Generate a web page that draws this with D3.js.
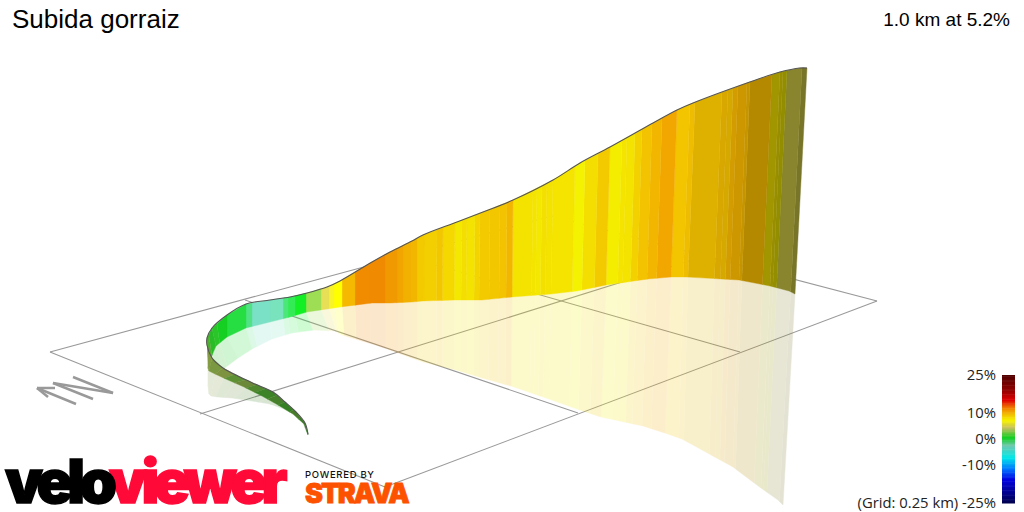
<!DOCTYPE html>
<html><head><meta charset="utf-8">
<script src="https://cdn.jsdelivr.net/npm/d3@7"></script>
<style>html,body{margin:0;padding:0;background:#fff;overflow:hidden}svg{display:block}</style>
</head><body><svg id="c" width="1024" height="512"></svg>
<script>
// --- profile outline, per station along the climb
const stationPos = [40,52,68,85,100,120,140,160,178,192,200,212,227,246,270,290,307,327,340,372,390,412,423,457,483,513,553,580,610,653,677,693,747,780,800,807];
const elevTopX  = [308,305,296,285,273,255,240,223,212,207,207,212,227,246,270,290,307,327,340,372,390,412,423,457,483,513,553,580,610,653,677,693,747,780,800,807];
const elevTopY  = [434,423,412,402,392,384,377,368,358,345,338,328,315,304,300,297,293,287,281,262,252,241,235,222,212,200,180,163,147,123,110,103,83,72,68,68];
const groundX   = [308,304,293,278,262,244,228,215,209,208,210,216,227,246,270,290,307,327,340,372,390,412,423,456,482,512,551,577,606,648,671,686,739,770,789,795];
const groundY   = [435,424,414,405,396,387,380,374,371,368,360,346,337,328,322,317,312,309,307,303,303,302,301,300,300,297,294,291,285,279,277,277,280,286,291,294];
const mirrorX   = [308,303,289,270,252,232,218,211,209,208,213,222,238,252,272,292,314,335,342,372,390,412,423,456,482,511,549,574,601,643,665,682,733,761,778,783];
const mirrorY   = [435,423,411,404,401,398,397,396,394,385,378,370,358,349,339,333,330,331,335,344,350,358,362,370,378,386,399,408,417,426,433,439,467,488,500,505];
// --- gradient strips: boundaries along the climb and the gradient (%) of each
const stripEdges = [40,48,60,72,85,95,108,118,132,146,160,178,190,196,204,212,217,227,246,252,270,283,288,295,306,321,329,334,342,355,370,385,397,403,411,417,424,437,443,455,462,467,475,480,490,500,507,513,533,537,542,547,553,575,585,598,610,622,627,635,642,652,662,677,690,695,722,728,733,738,747,750,772,780,783,787,802,807];
const stripGrades = [1.5,2,2.5,1.8,2.4,2,2.6,3.3,2.8,3.6,3.4,3.6,3,2,1,1,0.5,-0.2,-1.5,-2.8,-2.5,-1.2,-0.5,0.4,3,4.8,6,7,9.7,11.5,11.6,11,10.5,10,9.8,9,8.8,9.1,8.4,7.7,8.2,8,8.6,9,9.1,9.3,9.8,8,7.8,7.6,8.1,8,7.9,7,8.2,9,7.3,7.9,8,8.7,9.3,9.8,10.4,9.2,9.4,9.3,9.6,9.4,9.9,9.9,9.7,9.7,7.9,7.9,7.4,5,5];
// --- lighting of the 3D wall along the climb
const lightPos = [40,100,150,190,205,240,300,330,350,690,700,722,740,760,776,785,795,807];
const lightVal = [.6,.65,.75,.8,.9,1.1,1.15,1.1,1,1,.92,.9,.86,.75,.66,.6,.65,.55];
// --- colour legend
const legendGrades = [25,19,15,12,8,7,4.3,0.4,-2.7,-7.4,-12,-16,-25];
const legendColors = ["#500000","#900000","#e00000","#f08000","#f4e200","#f4f200","#c8c060","#10d020","#70c8b0","#00e8e8","#0070ff","#0000e0","#000050"];
const legendTicks = [25,10,0,-10,-25];
const titleText = "Subida gorraiz";
const summaryText = "1.0 km at 5.2%";
const gridNote = "(Grid: 0.25 km) ";

const svg = d3.select("#c");
const scaleOf = r => d3.scaleLinear().domain(stationPos).range(r);
const tX = scaleOf(elevTopX), tY = scaleOf(elevTopY), gX = scaleOf(groundX), gY = scaleOf(groundY), mX = scaleOf(mirrorX), mY = scaleOf(mirrorY);
const light = d3.scaleLinear().domain(lightPos).range(lightVal);
const color = d3.scaleLinear().domain(legendGrades).range(legendColors).interpolate(d3.interpolateRgb);
const shade = (g, k) => { const c = d3.rgb(color(g)); return d3.rgb(Math.min(255,c.r*k), Math.min(255,c.g*k), Math.min(255,c.b*k)).formatHex(); };

// ground grid
const gridLines = [[[50,352],[385,487]],[[385,487],[877,301]],[[877,301],[552,216]],[[552,216],[50,352]],[[245,300],[578,413]],[[200,414],[705,256]],[[404,256],[740,352]]];
svg.append("g").selectAll("line").data(gridLines).join("line")
  .attr("x1",d=>d[0][0]).attr("y1",d=>d[0][1]).attr("x2",d=>d[1][0]).attr("y2",d=>d[1][1])
  .attr("stroke","#999").attr("stroke-width",1.1);

// strips, far end first so the near olive part covers the green one
const strips = d3.range(stripGrades.length).map(i => {
  const a = stripEdges[i], b = stripEdges[i+1];
  return {a, b, pos:[a, ...stationPos.filter(p => p>a && p<b), b], g:stripGrades[i], k:light((a+b)/2)};
}).reverse();
const poly = (s, x1,y1,x2,y2) => {
  const up = s.pos.map(p => [x1(p),y1(p)]), dn = s.pos.slice().reverse().map(p => [x2(p),y2(p)]);
  return "M" + up.concat(dn).map(p=>p[0].toFixed(2)+","+p[1].toFixed(2)).join("L") + "Z";
};
svg.append("g").attr("opacity",.2).selectAll("path").data(strips).join("path")
  .attr("d", s => poly(s,gX,gY,mX,mY))
  .attr("fill", s => shade(s.g,s.k)).attr("stroke", s => shade(s.g,s.k)).attr("stroke-width",.4);
svg.append("g").selectAll("path").data(strips).join("path")
  .attr("d", s => poly(s,tX,tY,gX,gY))
  .attr("fill", s => shade(s.g,s.k)).attr("stroke", s => shade(s.g,s.k)).attr("stroke-width",.4);
const crest = d3.line().x(tX).y(tY).curve(d3.curveCatmullRom);
svg.append("path").attr("d", crest(stationPos)).attr("fill","none").attr("stroke","#555").attr("stroke-width",1.1);

// titles
svg.append("text").attr("x",12).attr("y",28).attr("font-family","Liberation Sans").attr("font-size",26).text(titleText);
svg.append("text").attr("x",1010).attr("y",26).attr("text-anchor","end").attr("font-family","Liberation Sans").attr("font-size",19).text(summaryText);

// legend
const ly = d3.scaleLinear().domain([-25,25]).range([503,375]);
svg.append("g").selectAll("rect").data(d3.range(-25,25,.5)).join("rect")
  .attr("x",1002).attr("width",13).attr("y",d=>ly(d+.5)).attr("height",d=>ly(d)-ly(d+.5)+.5).attr("fill",d=>color(d));
svg.append("g").selectAll("text").data(legendTicks).join("text")
  .attr("x",996).attr("y",d=>ly(d)+5).attr("text-anchor","end").attr("font-family","Open Sans").attr("font-size",14.8).attr("fill","#222")
  .text(d => (d===-25?gridNote:"")+d+"%");

// north arrow
const north = [[[37,388],[76,404]],[[37,388],[48,397]],[[37,388],[55,388]],[[53,383],[93,399]],[[53,383],[113,393]],[[73,377],[113,393]]];
svg.append("g").selectAll("line").data(north).join("line")
  .attr("x1",d=>d[0][0]).attr("y1",d=>d[0][1]).attr("x2",d=>d[1][0]).attr("y2",d=>d[1][1])
  .attr("stroke","#999").attr("stroke-width",2.5);

// logos
const logo = (t,x,y,size,fill,weight,sw,ls) => svg.append("text").attr("x",x).attr("y",y).attr("font-family","Inter").attr("font-size",size).attr("font-weight",weight)
  .attr("fill",fill).attr("stroke",fill).attr("stroke-width",sw).attr("letter-spacing",ls).text(t);
logo("viewer",109,503,60,"#ff0a38",900,1.5,-5.5);
logo("velo",5,503,60,"#000",900,1.5,-5.5);
logo("POWERED BY",305,478,9.5,"#111",500,0,.7);
logo("STRAVA",305,503,27,"#fc5200",900,.8,-1.9);
</script></body></html>
